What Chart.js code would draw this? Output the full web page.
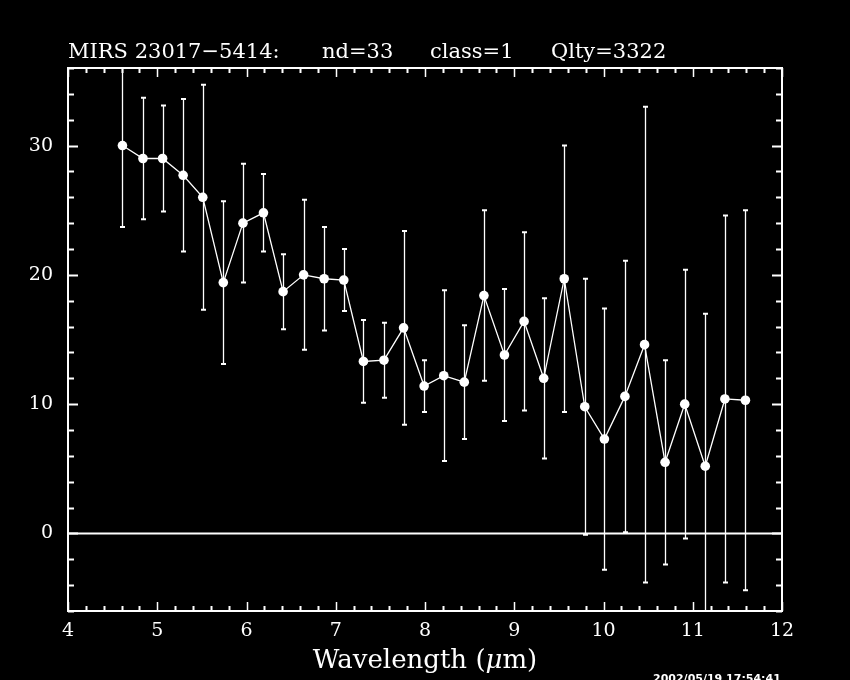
<!DOCTYPE html>
<html>
<head>
<meta charset="utf-8">
<title>MIRS 23017-5414</title>
<script src="https://cdn.jsdelivr.net/npm/chart.js"></script>
<style>
    html, body { margin: 0; padding: 0; background: #000; }
    #wrap { width: 850px; height: 680px; }
</style>
</head>
<body>
<div id="wrap"><canvas id="spectrum" width="850" height="680"></canvas></div>
<script>
const wavelength = [4.61, 4.84, 5.06, 5.29, 5.51, 5.74, 5.96, 6.19, 6.41, 6.64, 6.87, 7.09, 7.31, 7.54, 7.76, 7.99,
    8.21, 8.44, 8.66, 8.89, 9.11, 9.33, 9.56, 9.79, 10.01, 10.24, 10.46, 10.69, 10.91, 11.14, 11.36, 11.59];
const flux = [30.0, 29.0, 29.0, 27.7, 26.0, 19.4, 24.0, 24.8, 18.7, 20.0, 19.7, 19.6, 13.3, 13.4, 15.9, 11.4,
    12.2, 11.7, 18.4, 13.8, 16.4, 12.0, 19.7, 9.8, 7.3, 10.6, 14.6, 5.5, 10.0, 5.2, 10.4, 10.3];
const fluxErr = [6.3, 4.7, 4.1, 5.9, 8.7, 6.3, 4.6, 3.0, 2.9, 5.8, 4.0, 2.4, 3.2, 2.9, 7.5, 2.0,
    6.6, 4.4, 6.6, 5.1, 6.9, 6.2, 10.3, 9.9, 10.1, 10.5, 18.4, 7.9, 10.4, 11.8, 14.2, 14.7];
const xLabels = [4, 5, 6, 7, 8, 9, 10, 11, 12];
const yLabels = [0, 10, 20, 30];
const titleParts = ['MIRS 23017\u22125414:', 'nd=33', 'class=1', 'Qlty=3322'];
const stamp = '2002/05/19 17:54:41';

const serif = '"DejaVu Serif", serif';

function isWhole(v, list) {
    const r = Math.round(v);
    return Math.abs(v - r) < 1e-6 && list.includes(r);
}

// frame, inward ticks, zero line, error bars and the loose texts
const pgplotLook = {
    id: 'pgplotLook',
    beforeDatasetsDraw(chart) {
        const {ctx, chartArea: a, scales: {x, y}} = chart;
        ctx.save();
        ctx.strokeStyle = '#fff';

        // zero line
        const y0 = y.getPixelForValue(0);
        ctx.lineWidth = 2;
        ctx.beginPath();
        ctx.moveTo(a.left, y0);
        ctx.lineTo(a.right, y0);
        ctx.stroke();

        // error bars
        ctx.beginPath();
        ctx.rect(a.left, a.top, a.right - a.left, a.bottom - a.top);
        ctx.clip();
        wavelength.forEach((w, i) => {
            const px = Math.round(x.getPixelForValue(w)) + 0.5;
            const hi = y.getPixelForValue(flux[i] + fluxErr[i]);
            const lo = y.getPixelForValue(flux[i] - fluxErr[i]);
            ctx.lineWidth = 1.3;
            ctx.beginPath();
            ctx.moveTo(px, hi);
            ctx.lineTo(px, lo);
            ctx.stroke();
            ctx.lineWidth = 2;
            ctx.beginPath();
            ctx.moveTo(px - 2.5, hi);
            ctx.lineTo(px + 2.5, hi);
            ctx.moveTo(px - 2.5, lo);
            ctx.lineTo(px + 2.5, lo);
            ctx.stroke();
        });
        ctx.restore();
    },
    afterDraw(chart) {
        const {ctx, chartArea: a, scales: {x, y}} = chart;
        ctx.save();
        ctx.strokeStyle = '#fff';
        ctx.fillStyle = '#fff';

        ctx.lineWidth = 2;
        ctx.strokeRect(a.left, a.top, a.right - a.left, a.bottom - a.top);

        x.ticks.forEach(t => {
            const px = Math.round(x.getPixelForValue(t.value)) + 0.5;
            const len = isWhole(t.value, xLabels) ? 9 : 5;
            ctx.lineWidth = len > 5 ? 1.5 : 2;
            ctx.beginPath();
            ctx.moveTo(px, a.bottom);
            ctx.lineTo(px, a.bottom - len);
            ctx.moveTo(px, a.top);
            ctx.lineTo(px, a.top + len);
            ctx.stroke();
        });
        y.ticks.forEach(t => {
            const py = Math.round(y.getPixelForValue(t.value)) + 0.5;
            const len = t.value % 10 === 0 ? 10 : 6;
            ctx.lineWidth = 2;
            ctx.beginPath();
            ctx.moveTo(a.left, py);
            ctx.lineTo(a.left + len, py);
            ctx.moveTo(a.right, py);
            ctx.lineTo(a.right - len, py);
            ctx.stroke();
        });

        // title line
        ctx.font = '21px ' + serif;
        ctx.textBaseline = 'alphabetic';
        ctx.textAlign = 'left';
        const titleX = [68, 322, 430, 551];
        titleParts.forEach((s, i) => ctx.fillText(s, titleX[i], 58));

        // x axis title with italic mu
        const size = 26;
        const p1 = 'Wavelength (', p3 = 'm)';
        ctx.font = size + 'px ' + serif;
        const w1 = ctx.measureText(p1).width, w3 = ctx.measureText(p3).width;
        ctx.font = 'italic ' + size + 'px ' + serif;
        const w2 = ctx.measureText('\u03bc').width;
        let tx = (a.left + a.right) / 2 - (w1 + w2 + w3) / 2;
        ctx.font = size + 'px ' + serif;
        ctx.fillText(p1, tx, 668);
        ctx.font = 'italic ' + size + 'px ' + serif;
        ctx.fillText('\u03bc', tx + w1, 668);
        ctx.font = size + 'px ' + serif;
        ctx.fillText(p3, tx + w1 + w2, 668);

        // time stamp, mostly off the bottom edge
        ctx.font = 'bold 11px "DejaVu Sans", sans-serif';
        ctx.textBaseline = 'top';
        ctx.fillText(stamp, 653, 674);
        ctx.restore();
    }
};

const ctx = document.getElementById('spectrum').getContext('2d');
new Chart(ctx, {
    type: 'line',
    data: {
        datasets: [{
            data: wavelength.map((w, i) => ({x: w, y: flux[i]})),
            borderColor: '#fff',
            borderWidth: 1.3,
            backgroundColor: '#fff',
            pointRadius: 4.8,
            pointBorderWidth: 0,
            pointBackgroundColor: '#fff',
            tension: 0
        }]
    },
    options: {
        responsive: false,
        devicePixelRatio: 1,
        animation: false,
        layout: { padding: { left: 0, top: 68, right: 68, bottom: 0 } },
        plugins: {
            legend: { display: false },
            title: { display: false },
            tooltip: { enabled: false }
        },
        scales: {
            x: {
                type: 'linear',
                min: 4,
                max: 12,
                grid: { display: false, drawTicks: false },
                border: { display: false },
                ticks: {
                    stepSize: 0.2,
                    maxTicksLimit: 100,
                    autoSkip: false,
                    maxRotation: 0,
                    padding: 9,
                    color: '#fff',
                    font: { family: serif, size: 19 },
                    callback: v => isWhole(v, xLabels) ? String(Math.round(v)) : ''
                },
                afterFit: s => { s.height = 69; }
            },
            y: {
                min: -6,
                max: 36,
                grid: { display: false, drawTicks: false },
                border: { display: false },
                ticks: {
                    stepSize: 2,
                    maxTicksLimit: 100,
                    autoSkip: false,
                    padding: 15,
                    color: '#fff',
                    font: { family: serif, size: 19 },
                    callback: v => isWhole(v, yLabels) ? String(Math.round(v)) : ''
                },
                afterFit: s => { s.width = 68; }
            }
        }
    },
    plugins: [pgplotLook]
});
</script>
</body>
</html>
